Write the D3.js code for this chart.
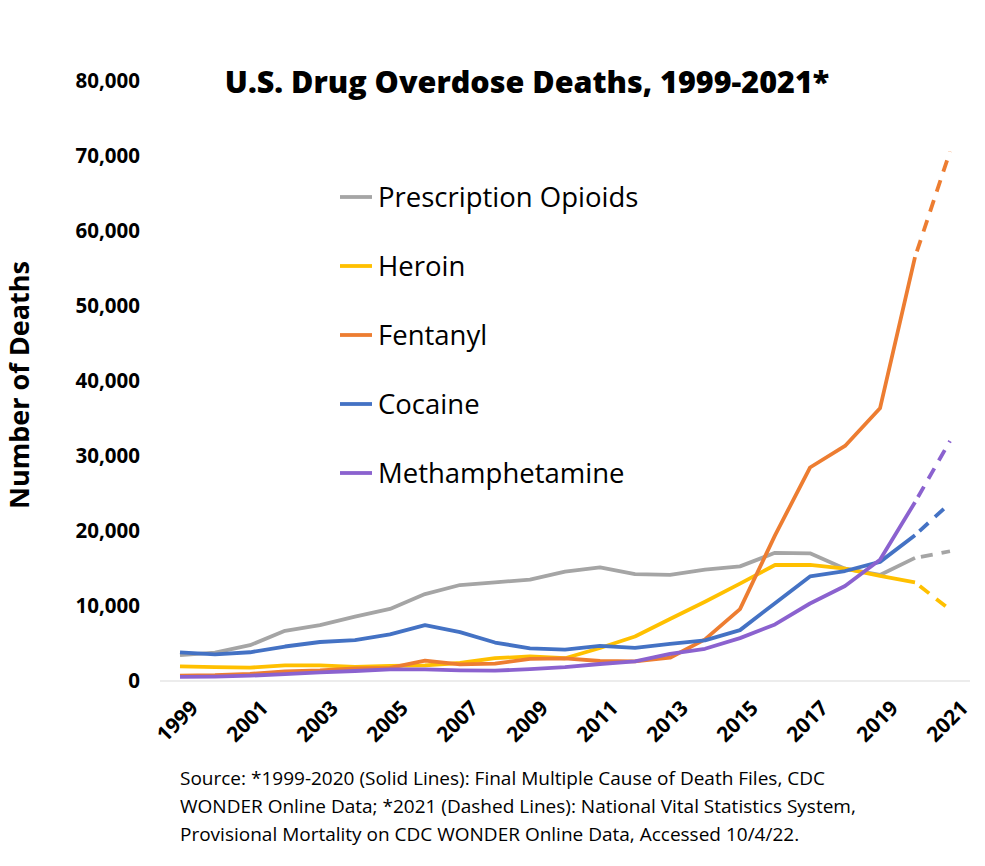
<!DOCTYPE html>
<html>
<head>
<meta charset="utf-8">
<script src="https://cdn.jsdelivr.net/npm/d3@7"></script>
<style>
  body { margin: 0; background: #fff; }
  text { font-family: "Open Sans", "Noto Sans", sans-serif; }
</style>
</head>
<body>
<div id="chart"></div>
<script>
// data (1999-2020 final, 2021 provisional)
var years = d3.range(1999, 2022);
var tickYears = [1999, 2001, 2003, 2005, 2007, 2009, 2011, 2013, 2015, 2017, 2019, 2021];
var yTicks = [0, 10000, 20000, 30000, 40000, 50000, 60000, 70000, 80000];

var rxOpioids = [3442, 3785, 4770, 6685, 7456, 8577, 9612, 11589, 12796, 13149, 13523, 14583, 15140, 14240, 14145, 14838, 15281, 17087, 17029, 14975, 14139, 16416, 17300];
var heroin = [1960, 1842, 1779, 2089, 2080, 1878, 2009, 2088, 2399, 3041, 3278, 3036, 4397, 5925, 8257, 10574, 12989, 15469, 15482, 14996, 14019, 13165, 9500];
var fentanyl = [730, 782, 957, 1295, 1400, 1664, 1742, 2707, 2213, 2306, 2946, 3007, 2666, 2628, 3105, 5544, 9580, 19413, 28466, 31335, 36359, 56516, 70600];
var cocaine = [3822, 3544, 3833, 4599, 5199, 5443, 6208, 7448, 6512, 5129, 4350, 4183, 4681, 4404, 4944, 5415, 6784, 10375, 13942, 14666, 15883, 19447, 23700];
var meth = [547, 578, 708, 926, 1163, 1332, 1550, 1539, 1417, 1378, 1581, 1854, 2266, 2628, 3627, 4298, 5716, 7542, 10333, 12676, 16167, 23837, 32000];

var seriesNames = ["Prescription Opioids", "Heroin", "Fentanyl", "Cocaine", "Methamphetamine"];
var seriesValues = [rxOpioids, heroin, fentanyl, cocaine, meth];
var seriesColors = ["#A5A5A5", "#FFC000", "#ED7D31", "#4472C4", "#8B62CF"];

var W = 985, H = 866;
var svg = d3.select("#chart").append("svg").attr("width", W).attr("height", H);

var x = d3.scaleLinear().domain([1999, 2021]).range([180, 950]);
var y = d3.scaleLinear().domain([0, 80000]).range([681, 81]);

// baseline
svg.append("line")
  .attr("x1", 160).attr("x2", 970)
  .attr("y1", y(0)).attr("y2", y(0))
  .attr("stroke", "#d9d9d9").attr("stroke-width", 1);

// y axis labels
svg.selectAll(".ytick").data(yTicks).enter().append("text")
  .attr("x", 140).attr("y", function(d) { return y(d); })
  .attr("dy", "0.35em")
  .attr("text-anchor", "end")
  .style("font-size", "20.5px").style("font-weight", "bold")
  .text(d3.format(","));

svg.append("text")
  .attr("transform", "translate(29," + 385 + ") rotate(-90)")
  .attr("text-anchor", "middle")
  .style("font-size", "27px").style("font-weight", "bold")
  .text("Number of Deaths");

// x axis labels
svg.selectAll(".xtick").data(tickYears).enter().append("text")
  .attr("transform", function(d) { return "translate(" + (x(d) + 9) + ",699) rotate(-45)"; })
  .attr("text-anchor", "end")
  .attr("dy", "0.7em")
  .style("font-size", "21px").style("font-weight", "bold")
  .text(function(d) { return d; });

// title
svg.append("text")
  .attr("x", 527).attr("y", 93)
  .attr("text-anchor", "middle")
  .style("font-size", "30.5px").style("font-weight", "800")
  .text("U.S. Drug Overdose Deaths, 1999-2021*");

var line = d3.line()
  .x(function(d) { return x(d[0]); })
  .y(function(d) { return y(d[1]); });

seriesValues.forEach(function(vals, i) {
  var pts = years.map(function(yr, j) { return [yr, vals[j]]; });
  svg.append("path")
    .attr("d", line(pts.slice(0, 22)))
    .attr("fill", "none")
    .attr("stroke", seriesColors[i])
    .attr("stroke-width", 3.8)
    .attr("stroke-linejoin", "round");
  svg.append("path")
    .attr("d", line(pts.slice(21)))
    .attr("fill", "none")
    .attr("stroke", seriesColors[i])
    .attr("stroke-width", 3.8)
    .attr("stroke-dasharray", "12,9")
    .attr("stroke-dashoffset", -6);
});

// legend
var legend = svg.selectAll(".legend").data(seriesNames).enter().append("g")
  .attr("transform", function(d, i) { return "translate(340," + (197 + i * 69) + ")"; });
legend.append("line")
  .attr("x1", 0).attr("x2", 32)
  .attr("stroke", function(d, i) { return seriesColors[i]; })
  .attr("stroke-width", 3.8);
legend.append("text")
  .attr("x", 38).attr("dy", "0.35em")
  .style("font-size", "27.5px")
  .text(function(d) { return d; });

// source note
var notes = [
  "Source: *1999-2020 (Solid Lines): Final Multiple Cause of Death Files, CDC",
  "WONDER Online Data; *2021 (Dashed Lines): National Vital Statistics System,",
  "Provisional Mortality on CDC WONDER Online Data, Accessed 10/4/22."
];
svg.selectAll(".note").data(notes).enter().append("text")
  .attr("x", 180).attr("y", function(d, i) { return 785 + i * 28; })
  .style("font-size", "19px")
  .text(function(d) { return d; });
</script>
</body>
</html>
